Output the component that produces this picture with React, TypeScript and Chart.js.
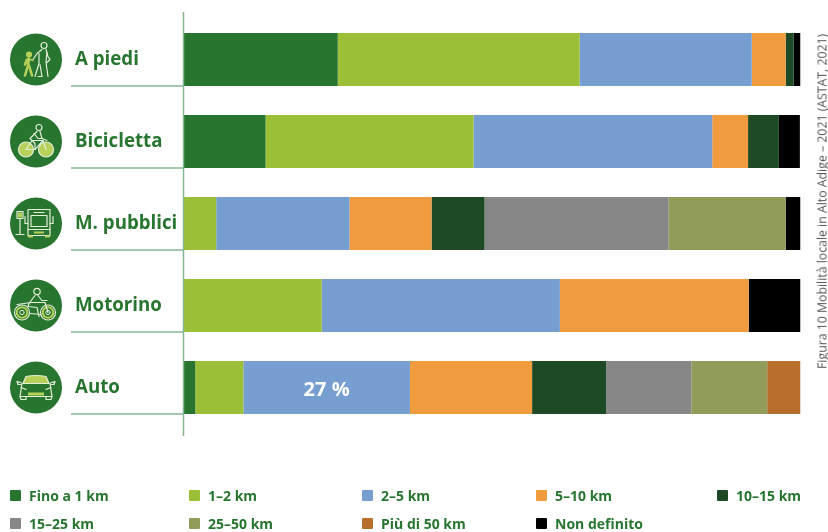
import React, { useEffect, useRef } from "react";
import { Chart, registerables } from "chart.js";

Chart.register(...registerables);

const categories = ["A piedi", "Bicicletta", "M. pubblici", "Motorino", "Auto"];
const seriesNames = ["Fino a 1 km", "1–2 km", "2–5 km", "5–10 km", "10–15 km", "15–25 km", "25–50 km", "Più di 50 km", "Non definito"];
const seriesColors = ["#27752f", "#9bc037", "#779ed1", "#f19b3f", "#1d4a25", "#878787", "#919c5b", "#b86f2c", "#000000"];
const upTo1 = [25.0, 13.3, 0, 0, 1.9];
const km1to2 = [39.2, 33.7, 5.3, 22.4, 7.8];
const km2to5 = [27.9, 38.7, 21.6, 38.6, 27.0];
const km5to10 = [5.5, 5.8, 13.3, 30.6, 19.8];
const km10to15 = [1.3, 5.0, 8.6, 0, 12.0];
const km15to25 = [0, 0, 29.8, 0, 13.8];
const km25to50 = [0, 0, 19.0, 0, 12.3];
const over50 = [0, 0, 0, 0, 5.4];
const undefinedKm = [1.1, 3.4, 2.4, 8.4, 0];
const allSeries = [upTo1, km1to2, km2to5, km5to10, km10to15, km15to25, km25to50, over50, undefinedKm];
const caption = "Figura 10 Mobilità locale in Alto Adige – 2021 (ASTAT, 2021)";
const annotation = { series: 2, category: 4, text: "27 %" };

const legendColumns = [10, 189, 362, 536, 717];
const FONT = '"Open Sans", sans-serif';
const GREEN = "#27752f";
const LINE = "#86b690";
const LIME = "#b6d05a";
const PALE = "#e4eed8";

type C = CanvasRenderingContext2D;
function path(ctx: C, pts: number[][], close = false) {
  ctx.beginPath();
  pts.forEach((p, i) => (i ? ctx.lineTo(p[0], p[1]) : ctx.moveTo(p[0], p[1])));
  if (close) ctx.closePath();
  ctx.stroke();
}
function ring(ctx: C, x: number, y: number, r: number, fill?: string) {
  ctx.beginPath();
  ctx.arc(x, y, r, 0, Math.PI * 2);
  if (fill) { ctx.fillStyle = fill; ctx.fill(); }
  ctx.stroke();
}
function walker(ctx: C) {
  ctx.strokeStyle = PALE;
  ring(ctx, 8, -14, 3);
  path(ctx, [[6, -10], [1, -6], [-3, 0]]);
  path(ctx, [[10, -10], [12, -3], [14, 0], [11, 3]]);
  path(ctx, [[3, -6], [3, 4], [-1, 17]]);
  path(ctx, [[11, -7], [10, 3], [12, 17]]);
  path(ctx, [[4, 5], [6, 17], [2, 17]]);
  ctx.strokeStyle = LIME;
  ctx.lineWidth = 2.6;
  ring(ctx, -7, -5, 1.8, LIME);
  path(ctx, [[-7, -1], [-8, 6], [-11, 16]]);
  path(ctx, [[-7, 6], [-4, 16]]);
  path(ctx, [[-9, 0], [-11, 5]]);
  ctx.lineWidth = 1.4;
  path(ctx, [[-6, 0], [-3, 1]]);
}
function bicycle(ctx: C) {
  ctx.strokeStyle = PALE;
  ring(ctx, -10, 8, 7.5, LIME);
  ring(ctx, 10, 8, 7.5, LIME);
  ring(ctx, 3, -14, 3);
  path(ctx, [[1, -10], [-6, -3], [-1, 2], [-1, 8]]);
  path(ctx, [[4, -10], [6, -3], [11, -1]]);
  path(ctx, [[-2, -8], [2, -3], [6, -3]]);
  path(ctx, [[-10, 8], [-4, -1], [7, -1], [10, 8]]);
  path(ctx, [[-10, 8], [-1, 8], [7, -1]]);
}
function bus(ctx: C) {
  ctx.strokeStyle = PALE;
  ctx.strokeRect(-8, -14, 22, 26);
  ctx.strokeRect(-5, -8, 16, 11);
  path(ctx, [[-8, 6], [14, 6]]);
  path(ctx, [[-11, -7], [-11, 0], [-8, 0]]);
  path(ctx, [[17, -7], [17, 0], [14, 0]]);
  path(ctx, [[-2, -11], [8, -11]]);
  path(ctx, [[-16, -5], [-16, 11]]);
  path(ctx, [[-20, 11], [-12, 11]]);
  ctx.strokeRect(-19, -12, 6, 7);
  ctx.fillStyle = LIME;
  ctx.fillRect(-18, -11, 4, 5);
  ctx.fillRect(-2, 8, 10, 2);
  ctx.fillRect(-8, 12, 5, 2);
  ctx.fillRect(9, 12, 5, 2);
}
function wheel(ctx: C, x: number) {
  ctx.save();
  ctx.strokeStyle = PALE;
  ring(ctx, x, 7, 7.5);
  ctx.strokeStyle = LIME;
  ctx.lineWidth = 2;
  ring(ctx, x, 7, 5.2);
  ctx.strokeStyle = PALE;
  ctx.lineWidth = 1;
  ring(ctx, x, 7, 2.2);
  ctx.restore();
}
function moto(ctx: C) {
  ctx.strokeStyle = PALE;
  ring(ctx, 1, -14, 3.2);
  wheel(ctx, -14);
  wheel(ctx, 12);
  path(ctx, [[-1, -10], [-7, -2], [-8, 1], [1, 2], [3, 11]]);
  path(ctx, [[2, -10], [6, -5], [11, -5]]);
  path(ctx, [[-19, -1], [-5, -3], [9, -3], [12, 7]]);
  path(ctx, [[-6, 8], [5, 9]]);
}
function car(ctx: C) {
  ctx.strokeStyle = PALE;
  ctx.fillStyle = LIME;
  ctx.beginPath();
  ctx.moveTo(-13, -4);
  ctx.lineTo(-10, -11);
  ctx.quadraticCurveTo(0, -13, 10, -11);
  ctx.lineTo(13, -4);
  ctx.closePath();
  ctx.fill();
  ctx.stroke();
  path(ctx, [[-14, -4], [-16, 9], [16, 9], [14, -4]]);
  path(ctx, [[-14, -4], [14, -4]]);
  path(ctx, [[-15, -5], [-19, -6], [-18, -3], [-15, -3]]);
  path(ctx, [[15, -5], [19, -6], [18, -3], [15, -3]]);
  path(ctx, [[-16, 9], [-15, 12], [-10, 12], [-10, 9]]);
  path(ctx, [[16, 9], [15, 12], [10, 12], [10, 9]]);
  ctx.fillStyle = LIME;
  ctx.fillRect(-8, 5, 16, 3);
  path(ctx, [[-15, 0], [-10, 2]]);
  path(ctx, [[15, 0], [10, 2]]);
}
const icons = [walker, bicycle, bus, moto, car];

const decorations = {
  id: "decorations",
  afterDatasetsDraw(chart: Chart) {
    const { ctx, chartArea, scales } = chart;
    const y = scales.y;
    const x0 = chartArea.left;
    ctx.save();
    ctx.strokeStyle = LINE;
    ctx.lineWidth = 1.5;
    path(ctx, [[x0, 12], [x0, 436]]);
    categories.forEach((_, i) => {
      const c = y.getPixelForTick(i);
      ctx.save();
      ctx.strokeStyle = LINE;
      ctx.lineWidth = 1.5;
      path(ctx, [[71, c + 26.5], [x0, c + 26.5]]);
      ctx.fillStyle = GREEN;
      ctx.beginPath();
      ctx.arc(36, c, 26, 0, Math.PI * 2);
      ctx.fill();
      ctx.translate(36, c);
      ctx.lineWidth = 1.2;
      ctx.lineJoin = "round";
      ctx.lineCap = "round";
      icons[i](ctx);
      ctx.restore();
    });
    const bar: any = chart.getDatasetMeta(annotation.series).data[annotation.category];
    ctx.fillStyle = "#ffffff";
    ctx.font = `700 20px ${FONT}`;
    ctx.textAlign = "center";
    ctx.textBaseline = "middle";
    ctx.fillText(annotation.text, bar.x - (bar.x - bar.base) / 2, bar.y + 3);
    ctx.restore();
  },
};

export default function App() {
  const ref = useRef<HTMLCanvasElement>(null);
  useEffect(() => {
    const chart = new Chart(ref.current!, {
      type: "bar",
      data: {
        labels: categories,
        datasets: seriesNames.map((label, i) => ({
          label,
          data: allSeries[i],
          backgroundColor: seriesColors[i],
          borderWidth: 0,
          categoryPercentage: 1,
          barPercentage: 53 / 82,
        })),
      },
      options: {
        indexAxis: "y",
        animation: false,
        responsive: false,
        devicePixelRatio: 1,
        layout: { padding: { left: 75, right: 27.5, top: 18.5, bottom: 103.5 } },
        plugins: { legend: { display: false }, tooltip: { enabled: false }, title: { display: false } },
        scales: {
          x: { stacked: true, min: 0, max: 100, display: false },
          y: {
            stacked: true,
            grid: { display: false },
            border: { display: false },
            afterFit: (s: any) => { s.width = 108.5; },
            ticks: { crossAlign: "far", color: GREEN, padding: 0, autoSkip: false, font: { family: FONT, weight: 700, size: 18.7 } },
          },
        },
      } as any,
      plugins: [decorations],
    });
    return () => chart.destroy();
  }, []);

  return (
    <div style={{ position: "fixed", left: 0, top: 0, width: 828, height: 532, overflow: "hidden", background: "#fff" }}>
      <canvas ref={ref} width={828} height={532} style={{ display: "block" }} />
      {seriesNames.map((name, i) => (
        <div key={name} style={{ position: "absolute", left: legendColumns[i % 5], top: i < 5 ? 486 : 514, height: 18, display: "flex", alignItems: "center", whiteSpace: "nowrap", font: `700 14px ${FONT}`, color: GREEN }}>
          <span style={{ width: 11, height: 11, marginRight: 8, background: seriesColors[i], borderRadius: 1 }} />
          {name}
        </div>
      ))}
      <div style={{ position: "absolute", left: 822, top: 369, transformOrigin: "0 0", transform: "rotate(-90deg) translateY(-50%)", whiteSpace: "nowrap", font: `400 12.3px ${FONT}`, color: "#555" }}>
        {caption}
      </div>
    </div>
  );
}
